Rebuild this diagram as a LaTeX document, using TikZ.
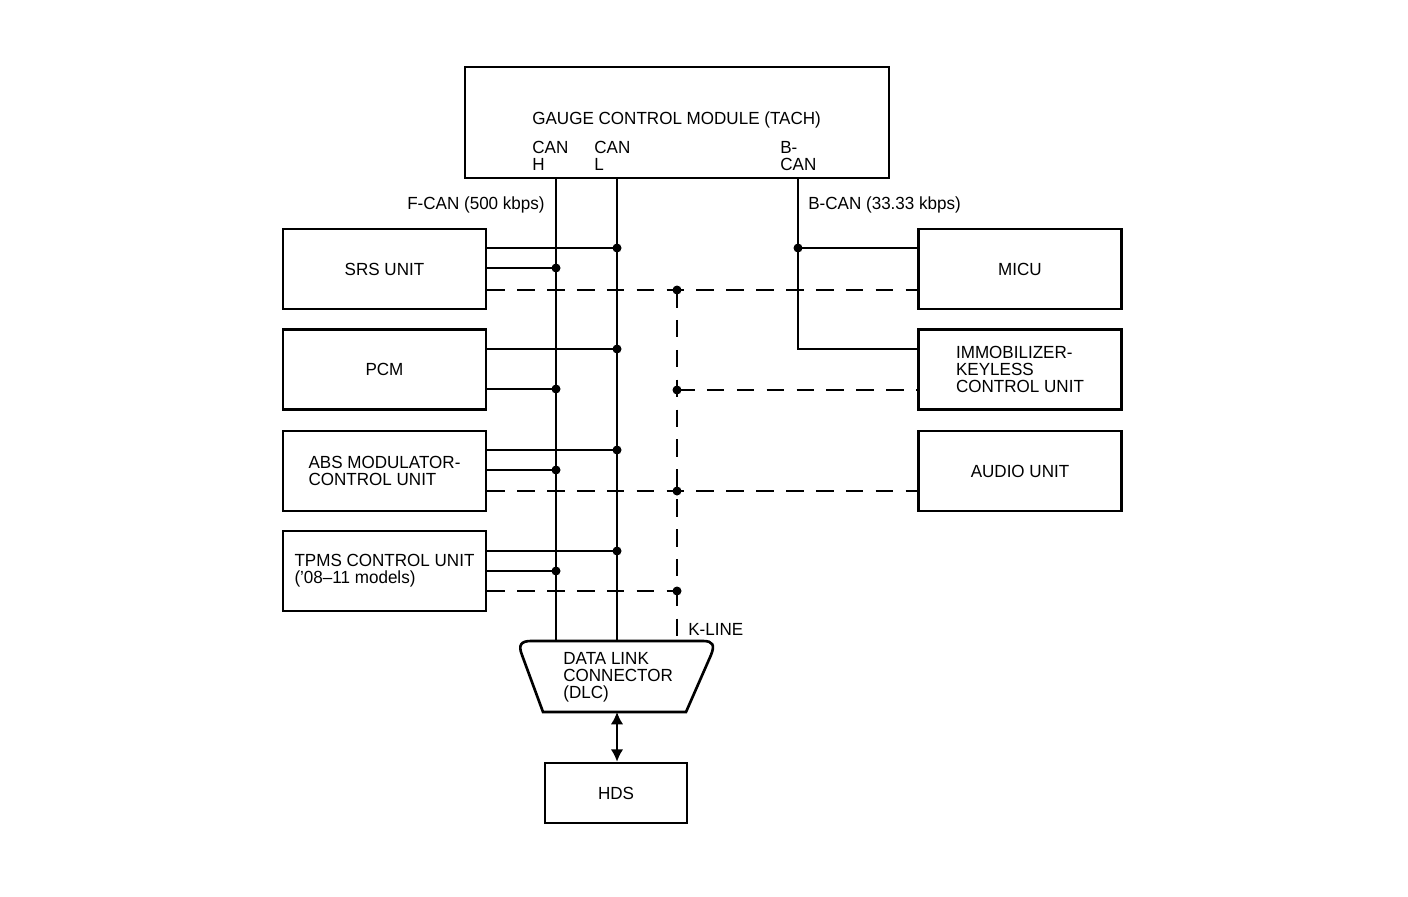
\documentclass[tikz,border=0pt]{standalone}
\usepackage{fontspec}
\setmainfont{Liberation Sans}[FakeStretch=0.97]
\usetikzlibrary{arrows.meta}

\begin{document}
\begin{tikzpicture}[x=0.2mm, y=-0.2mm, font=\fontsize{10}{9.6}\selectfont,
  Unit/.style={draw, line width=1.5pt, minimum width=40.6mm, minimum height=16mm, align=left, inner sep=0pt},
  Label/.style={inner sep=0pt, align=left},
  Bus/.style={line width=1.2pt},
  KLine/.style={line width=0.65pt, dash pattern=on 10pt off 7pt},
  Joint/.style={circle, fill, inner sep=0pt, minimum size=1.8mm}]

\useasboundingbox (0,0) rectangle (1408,896);

% gauge control module
\node [Unit, minimum width=84.8mm, minimum height=22.2mm] (gcm) at (677,122.5) {};
\node [Label, anchor=west] (gcmname) at (532,120) {GAUGE CONTROL MODULE (TACH)};
\node [Label, anchor=north west] (canhname) at (532,141) {CAN\\H};
\node [Label, anchor=north west] (canlname) at (594,141) {CAN\\L};
\node [Label, anchor=north west] (bcanname) at (780,141) {B-\\CAN};

\node [Label, anchor=east] (fcanrate) at (545,205) {F-CAN (500 kbps)};
\node [Label, anchor=west] (bcanrate) at (808,205) {B-CAN (33.33 kbps)};

\coordinate (canH) at (556,178);
\coordinate (canL) at (617,178);
\coordinate (bcan) at (798,178);

% units on F-CAN
\foreach \y/\name/\text in {269/srs/SRS UNIT, 369.5/pcm/PCM, 471/abs/{ABS MODULATOR-\\CONTROL UNIT}, 571/tpms/{TPMS CONTROL UNIT\\(’08–11 models)}} {
  \node [Unit] (\name) at (384.5,\y) {\text};
}

% units on B-CAN
\foreach \y/\name/\text in {269/micu/MICU, 369.5/immob/{IMMOBILIZER-\\KEYLESS\\CONTROL UNIT}, 471/audio/AUDIO UNIT} {
  \node [Unit] (\name) at (1020,\y) {\text};
}

% data link connector
\coordinate (dlctop) at (617,641);
\coordinate (dlcbot) at (617,712);
\draw [line width=1.5pt] (543,712) -- (522,655) .. controls (518,645) and (521,641) .. (531,641) -- (703,641) .. controls (713,641) and (715,645) .. (711,655) -- (686,712) -- cycle;
\node [Label, anchor=north west] (dlc) at (563,652) {DATA LINK\\CONNECTOR\\(DLC)};
\node [Label, anchor=west] (kline) at (688,629) {K-LINE};

\node [Unit, minimum width=28.4mm, minimum height=12mm] (hds) at (616,793) {HDS};

% buses
\draw [Bus] (canH) -- (canH |- dlctop);
\draw [Bus] (canL) -- (canL |- dlctop);

\foreach \name/\yl/\yh/\yk in {srs/248/268/290, pcm/349/389/390, abs/450/470/491, tpms/551/571/591} {
  \coordinate (\name-l) at (617,\yl);
  \coordinate (\name-h) at (556,\yh);
  \coordinate (\name-k) at (677,\yk);
  \draw [Bus] (\name-l -| \name.east) -- (\name-l) node [Joint] {};
  \draw [Bus] (\name-h -| \name.east) -- (\name-h) node [Joint] {};
  \node [Joint] at (\name-k) {};
}

% k-line
\draw [KLine] (srs-k -| srs.east) -- (srs-k -| micu.west);
\draw [KLine] (pcm-k) -- (pcm-k -| immob.west);
\draw [KLine] (abs-k -| abs.east) -- (abs-k -| audio.west);
\draw [KLine] (tpms-k -| tpms.east) -- (tpms-k);
\draw [KLine] (srs-k) -- (srs-k |- dlctop);

% b-can
\coordinate (micu-b) at (798,248);
\coordinate (immob-b) at (798,349);
\draw [Bus] (bcan) -- (immob-b) -- (immob-b -| immob.west);
\draw [Bus] (micu-b) -- (micu-b -| micu.west);
\node [Joint] at (micu-b) {};

\draw [<->, >={Latex[length=7pt, width=7pt]}, line width=0.9pt] (dlcbot) -- (dlcbot |- hds.north);
\end{tikzpicture}
\end{document}
